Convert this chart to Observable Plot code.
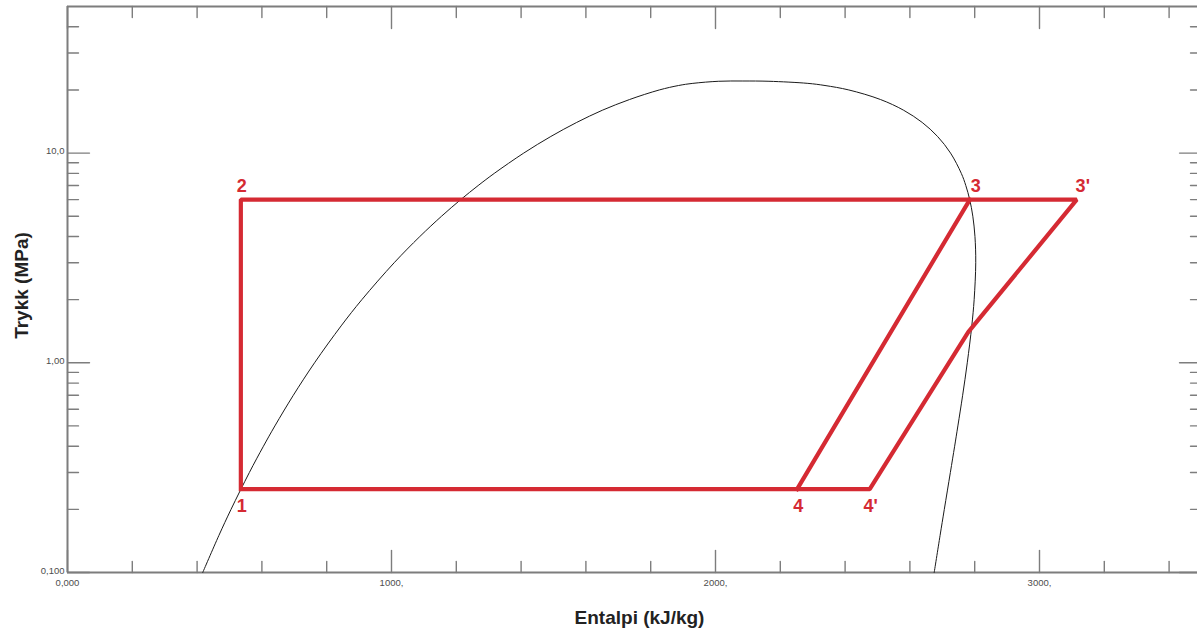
<!DOCTYPE html>
<html>
<head>
<meta charset="utf-8">
<script src="https://cdn.jsdelivr.net/npm/d3@7"></script>
<script src="https://cdn.jsdelivr.net/npm/@observablehq/plot@0.6"></script>
<style>
  html, body { margin: 0; padding: 0; background: #fff; overflow: hidden; }
  #chart svg { display: block; }
</style>
</head>
<body>
<div id="chart"></div>
<script>
// Saturation dome of water: pressure (MPa), saturated liquid / vapour enthalpy (kJ/kg)
const satP   = [0.1, 0.15, 0.2, 0.3, 0.4, 0.5, 0.7, 1.0, 1.5, 2.0, 3.0, 4.0, 5.0, 6.0, 7.0, 8.0, 10, 12, 14, 16, 18, 20, 21, 21.5, 22];
const satHf  = [417.4, 467.1, 504.7, 561.4, 604.7, 640.1, 697.0, 762.5, 844.6, 908.5, 1008.3, 1087.4, 1154.5, 1213.7, 1267.4, 1317.1, 1408.1, 1491.8, 1571.6, 1650.5, 1734.5, 1826.6, 1886, 1930, 2010];
const satHg  = [2675.0, 2693.1, 2706.2, 2724.9, 2738.1, 2748.1, 2762.8, 2777.1, 2791.0, 2798.3, 2803.2, 2800.8, 2794.2, 2784.6, 2772.6, 2758.7, 2725.5, 2685.4, 2637.9, 2580.8, 2509.5, 2411.4, 2338, 2285, 2165];
const critP  = 22.064;
const critH  = 2084.3;

// Cycle states
const stateNames = ["1", "2", "3", "3'", "4", "4'", "b"];
const stateH     = [535, 535, 2785, 3115, 2252, 2476, 2780];
const stateP     = [0.25, 6, 6, 6, 0.25, 0.25, 1.4];
// Polylines through the states ("b" = bend where 3'-4' crosses the dome)
const cycleOuter = ["1", "2", "3", "3'", "b", "4'", "4", "1"];
const cycleInner = ["3", "4"];

// Axis ticks and labels
const xMajorTicks  = [0, 1000, 2000, 3000];
const xMinorTicks  = [200, 400, 600, 800, 1200, 1400, 1600, 1800, 2200, 2400, 2600, 2800, 3200, 3400];
const xTickLabels  = ["0,000", "1000,", "2000,", "3000,"];
const yMajorTicks  = [0.1, 1, 10];
const yMinorTicks  = [0.2, 0.3, 0.4, 0.5, 0.6, 0.7, 0.8, 0.9, 2, 3, 4, 5, 6, 7, 8, 9, 20, 30, 40];
const yTickLabels  = ["0,100", "1,00", "10,0"];
const xTitle = "Entalpi (kJ/kg)";
const yTitle = "Trykk (MPa)";

const X_MIN = 0, X_MAX = 3500, Y_MIN = 0.1, Y_MAX = 50;

const states = stateNames.map((name, i) => ({name, h: stateH[i], p: stateP[i]}));
const byName = new Map(states.map(d => [d.name, d]));
const cyclePath = [
  ...cycleOuter.map(n => ({...byName.get(n), seg: "outer"})),
  ...cycleInner.map(n => ({...byName.get(n), seg: "inner"}))
];

const dome = [
  ...satP.map((p, i) => ({p, h: satHf[i]})),
  {p: critP, h: critH},
  ...satP.map((p, i) => ({p, h: satHg[i]})).reverse()
];

const axisGrey = "#7d7d7d";
const red = "#d52a33";
const tickShape = {draw(context, l) { context.moveTo(0, 0); context.lineTo(0, -l); }};
const ticks = (data, opts) => Plot.vector(data, {anchor: "start", shape: tickShape, stroke: axisGrey, strokeWidth: 1.4, ...opts});

const labelled = names => states.filter(d => names.includes(d.name));
const stateLabel = {x: "h", y: "p", text: "name", fontSize: 18, fontWeight: "bold", fill: red};

const chart = Plot.plot({
  width: 1197,
  height: 634,
  marginLeft: 67,
  marginRight: 0,
  marginTop: 6,
  marginBottom: 62,
  x: {type: "linear", domain: [X_MIN, X_MAX], range: [67, 1201], axis: null},
  y: {type: "log", domain: [Y_MIN, Y_MAX], range: [572, 6], axis: null},
  style: {background: "#fff", fontFamily: "'Liberation Sans', Arial, sans-serif", overflow: "hidden"},
  marks: [
    // frame
    Plot.ruleX([X_MIN, X_MAX], {x: d => d, y1: Y_MIN, y2: Y_MAX, stroke: axisGrey, strokeWidth: 2}),
    Plot.ruleY([Y_MIN, Y_MAX], {y: d => d, x1: X_MIN, x2: X_MAX, stroke: axisGrey, strokeWidth: 2}),

    // bottom and top ticks
    ticks(xMajorTicks, {x: d => d, y: Y_MIN, length: 22, rotate: 0}),
    ticks(xMinorTicks, {x: d => d, y: Y_MIN, length: 11, rotate: 0}),
    ticks(xMajorTicks, {x: d => d, y: Y_MAX, length: 22, rotate: 180}),
    ticks(xMinorTicks, {x: d => d, y: Y_MAX, length: 11, rotate: 180}),
    // left and right ticks
    ticks(yMajorTicks, {y: d => d, x: X_MIN, length: 22, rotate: 90}),
    ticks(yMinorTicks, {y: d => d, x: X_MIN, length: 11, rotate: 90}),
    ticks(yMajorTicks, {y: d => d, x: X_MAX, length: 22, rotate: -90}),
    ticks(yMinorTicks, {y: d => d, x: X_MAX, length: 11, rotate: -90}),

    // tick labels
    Plot.text(xMajorTicks, {x: d => d, frameAnchor: "bottom", text: (d, i) => xTickLabels[i], dy: 7, lineAnchor: "top", fontSize: 9.5, fill: "#4d4d4d"}),
    Plot.text(yMajorTicks, {y: d => d, frameAnchor: "left", text: (d, i) => yTickLabels[i], dx: -3, dy: -2, textAnchor: "end", fontSize: 9.5, fill: "#4d4d4d"}),

    // axis titles
    Plot.text([yTitle], {frameAnchor: "left", text: d => d, rotate: -90, textAnchor: "middle", lineAnchor: "middle", dx: -46, dy: -4, fontSize: 19, fontWeight: "bold", fill: "#222"}),
    Plot.text([xTitle], {frameAnchor: "bottom", text: d => d, dx: 7, dy: 51, fontSize: 19, fontWeight: "bold", fill: "#222"}),

    // saturation dome
    Plot.line(dome, {x: "h", y: "p", curve: "catmull-rom", stroke: "#1a1a1a", strokeWidth: 1}),

    // cycle
    Plot.line(cyclePath, {x: "h", y: "p", z: "seg", stroke: red, strokeWidth: 4.2, strokeLinejoin: "miter", strokeLinecap: "square"}),

    // state labels
    Plot.text(labelled(["2"]), {...stateLabel, dx: 1, dy: -13}),
    Plot.text(labelled(["3", "3'"]), {...stateLabel, dx: 6, dy: -13}),
    Plot.text(labelled(["1", "4", "4'"]), {...stateLabel, dx: 1, dy: 17})
  ]
});

document.getElementById("chart").append(chart);
</script>
</body>
</html>
